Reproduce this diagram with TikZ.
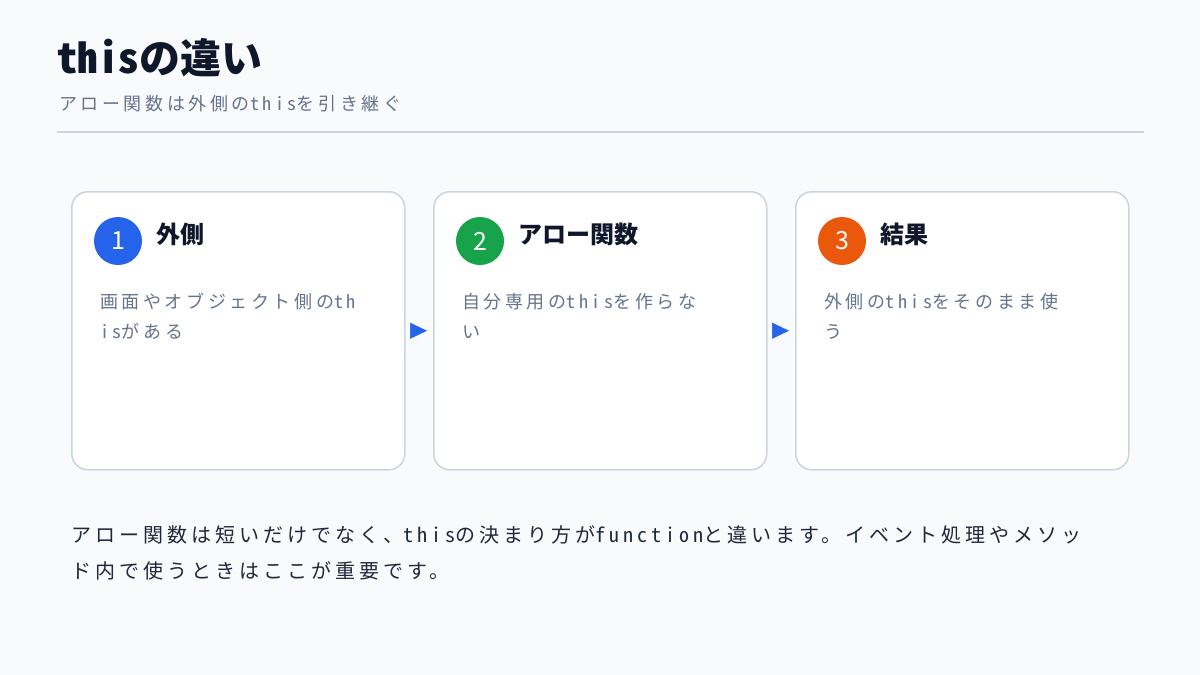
\documentclass[tikz,border=0pt]{standalone}
\usepackage{fontspec}
\setmainfont{Noto Sans CJK JP}
\newfontfamily\jpsp[LetterSpace=20]{Noto Sans CJK JP}
\newcommand\hw[1]{{\addfontfeatures{RawFeature=+hwid}#1}}
\usetikzlibrary{arrows.meta}
\definecolor{bgc}{HTML}{F8FAFC}
\definecolor{ink}{HTML}{0F172A}
\definecolor{inktwo}{HTML}{1E293B}
\definecolor{muted}{HTML}{64748B}
\definecolor{rulec}{HTML}{CBD5E1}
\definecolor{cblue}{HTML}{2563EB}
\definecolor{cgreen}{HTML}{16A34A}
\definecolor{corange}{HTML}{EA580C}
\tikzset{
  card/.style={draw=rulec, line width=1.5pt, fill=white, rounded corners=16pt,
    minimum width=333pt, minimum height=278pt, anchor=north west, inner sep=0pt},
  badge/.style={circle, minimum size=48pt, inner sep=0pt, text=white,
    font=\fontsize{25}{28}\selectfont},
  head/.style={anchor=base west, inner sep=0pt, text=ink,
    font=\fontsize{24}{28}\selectfont\bfseries},
  body/.style={anchor=base west, inner sep=0pt, text=muted, align=left,
    font=\jpsp\fontsize{18}{30}\selectfont},
  flow/.style={draw=cblue, line width=0.5pt, -{Triangle[length=17pt,width=16pt]}, shorten >=0pt},
}
\begin{document}
\begin{tikzpicture}[x=1pt,y=-1pt]
\useasboundingbox (0,0) rectangle (1200,675);
\fill[bgc] (0,0) rectangle (1200,675);
% title
\node[anchor=base west, inner sep=0pt, text=ink, font=\fontsize{41}{44}\selectfont\bfseries] (title) at (57,73) {\hw{this}の違い};
\node[anchor=base west, inner sep=0pt, text=muted, font=\jpsp\fontsize{18}{22}\selectfont] (sub) at (59,110) {アロー関数は外側の\hw{this}を引き継ぐ};
\coordinate (r1) at (57,132);
\coordinate (r2) at (1144,132);
\draw[rulec, line width=2pt] (r1) -- (r2);
% cards
\node[card] (c1) at (71,191) {};
\node[card] (c2) at (433,191) {};
\node[card] (c3) at (795,191) {};
\node[badge, fill=cblue] (b1) at (118,241) {1};
\node[badge, fill=cgreen] (b2) at (480,241) {2};
\node[badge, fill=corange] (b3) at (842,241) {3};
\node[head] (h1) at (156,243) {外側};
\node[head] (h2) at (518,243) {アロー関数};
\node[head] (h3) at (880,243) {結果};
% base anchor of a two-line node is the last line's baseline
\node[body] (t1) at (100,338) {画面やオブジェクト側の\hw{th}\\\hw{is}がある};
\node[body] (t2) at (462,338) {自分専用の\hw{this}を作らな\\い};
\node[body] (t3) at (824,338) {外側の\hw{this}をそのまま使\\う};
% arrows
\draw[flow] ([xshift=6pt]c1.east) -- ([xshift=-6pt]c2.west);
\draw[flow] ([xshift=6pt]c2.east) -- ([xshift=-6pt]c3.west);
% bottom note
\node[anchor=base west, inner sep=0pt, text=inktwo, align=left,
  font=\jpsp\fontsize{20}{36}\selectfont] (note) at (71,578)
  {アロー関数は短いだけでなく、\hw{this}の決まり方が\hw{function}と違います。イベント処理やメソッ\\ド内で使うときはここが重要です。};
\end{tikzpicture}
\end{document}
